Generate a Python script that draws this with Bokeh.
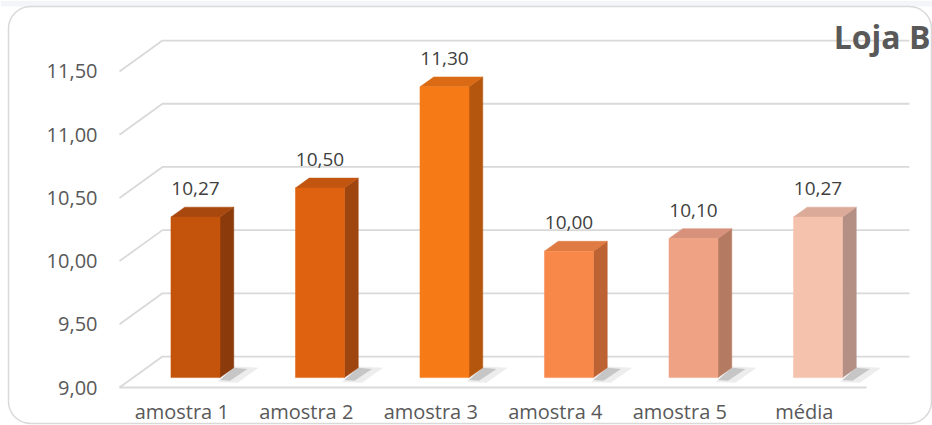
from bokeh.plotting import figure
from bokeh.models import Range1d
from bokeh.core.properties import value
from bokeh.embed import file_html
from bokeh.resources import INLINE

# ---- data ----
categories = ["amostra 1", "amostra 2", "amostra 3", "amostra 4", "amostra 5", "média"]
values = [10.27, 10.50, 11.30, 10.00, 10.10, 10.27]
y_ticks = [9.0, 9.5, 10.0, 10.5, 11.0, 11.5]
y_tick_labels = ["9,00", "9,50", "10,00", "10,50", "11,00", "11,50"]
title_text = "Loja B"

front_colors = ["#C4540C", "#DE6210", "#F67B17", "#F7884A", "#EFA384", "#F5C2AE"]
side_colors = ["#8A3A0B", "#9E4510", "#B5560F", "#BD6232", "#B57A62", "#B38F84"]
top_colors = ["#A8480E", "#C25510", "#DA6A14", "#DE7A42", "#D8917A", "#DCAA99"]

FONT = "Open Sans"
n = len(categories)
y_base = y_ticks[0]

# 3-D geometry (in data units)
DX, DY = 0.345, 0.245      # depth of the chart floor
F1, F2 = 0.32, 0.64        # bar front / back depth fractions
BW = 0.394                 # bar width

# scale: 124.5 px per category, 126.4 px per value unit; frame = whole canvas
p = figure(width=932, height=425, output_backend="svg", toolbar_location=None, tools="",
           x_range=Range1d(-0.9558, 6.5301), y_range=Range1d(8.6994, 12.0617),
           min_border=0, x_axis_type=None, y_axis_type=None)
p.outline_line_color = None
p.grid.visible = False
p.background_fill_color = "white"
p.border_fill_color = "white"

# top strip and rounded chart border
p.quad(left=[-0.9558], right=[6.5301], bottom=[12.0142], top=[12.0617],
       fill_color="#F3F5F8", line_color=None)
p.quad(left=[-0.8916], right=[6.522], bottom=[8.7152], top=[12.0142],
       fill_color="white", line_color="#D9D9D9", line_width=1.5, border_radius=22)

# gridlines: left diagonal + back wall horizontal
gx, gy = [], []
for t in y_ticks:
    gx.append([0, DX, n + DX])
    gy.append([t, t + DY, t + DY])
p.multi_line(gx, gy, line_color="#D9D9D9", line_width=1.8)
# floor front edge
p.segment(x0=[0], y0=[y_base], x1=[n], y1=[y_base], line_color="#D9D9D9", line_width=1.8)

# bars
xs_front, ys_front, xs_side, ys_side, xs_top, ys_top = [], [], [], [], [], []
shx1, shy1, shx2, shy2 = [], [], [], []
lab_x, lab_y, lab_t = [], [], []
bdx, bdy = (F2 - F1) * DX, (F2 - F1) * DY
for i, v in enumerate(values):
    c = i + 0.5 + F1 * DX
    xl, xr = c - BW / 2, c + BW / 2
    yb = y_base + F1 * DY
    yt = v + F1 * DY
    xs_front.append([xl, xr, xr, xl]); ys_front.append([yb, yb, yt, yt])
    xs_side.append([xr, xr + bdx, xr + bdx, xr]); ys_side.append([yb, yb + bdy, yt + bdy, yt])
    xs_top.append([xl, xr, xr + bdx, xl + bdx]); ys_top.append([yt, yt, yt + bdy, yt + bdy])
    shx1.append([xr - 0.02, xr + bdx, xr + bdx + 0.2, xr + 0.14])
    shy1.append([yb - 0.035, yb + bdy + 0.01, yb + bdy + 0.0, yb - 0.04])
    shx2.append([xr, xr + bdx, xr + bdx + 0.11, xr + 0.08])
    shy2.append([yb - 0.02, yb + bdy, yb + bdy - 0.01, yb - 0.025])
    lab_x.append(c); lab_y.append(yt + 0.225)
    lab_t.append(f"{v:.2f}".replace(".", ","))

# shadows on the floor
p.patches(shx1, shy1, fill_color="#8C8C8C", fill_alpha=0.16, line_color=None)
p.patches(shx2, shy2, fill_color="#6E6E6E", fill_alpha=0.3, line_color=None)

p.patches(xs_side, ys_side, fill_color=side_colors, line_color=side_colors, line_width=0.5)
p.patches(xs_top, ys_top, fill_color=top_colors, line_color=top_colors, line_width=0.5)
p.patches(xs_front, ys_front, fill_color=front_colors, line_color=front_colors, line_width=0.5)

# data labels
p.text(x=lab_x, y=lab_y, text=lab_t, text_align="center", text_baseline="middle",
       text_font=value(FONT), text_font_size="19px", text_color="#404040")

# value-axis tick labels (at the front plane)
p.text(x=[-0.1767] * len(y_ticks), y=y_ticks, text=y_tick_labels, text_align="right",
       text_baseline="middle", text_font=value(FONT), text_font_size="20px", text_color="#595959")

# category labels
p.text(x=[i + 0.5 for i in range(n)], y=[8.808] * n, text=categories, text_align="center",
       text_baseline="middle", text_font=value(FONT), text_font_size="20px", text_color="#595959")

# title
p.text(x=[6.514], y=[11.773], text=[title_text], text_align="right", text_baseline="middle",
       text_font=value(FONT), text_font_size="32px", text_font_style="bold", text_color="#595959")

open("out.html", "w").write(file_html(p, INLINE))
